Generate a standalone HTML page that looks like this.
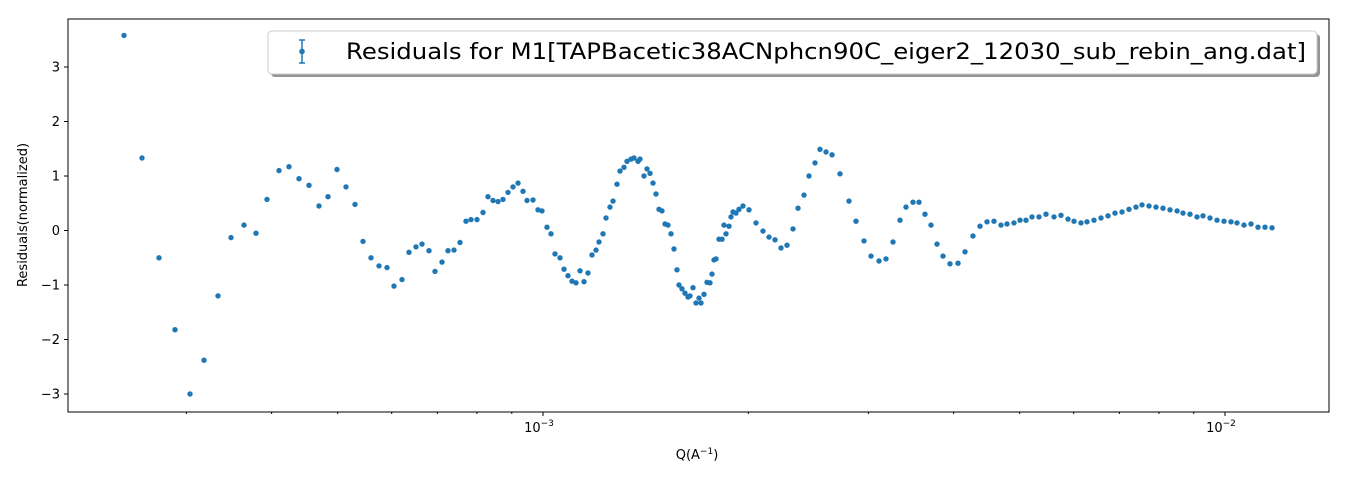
<!DOCTYPE html>
<html><head><meta charset="utf-8"><style>
body{margin:0;background:#fff;}
svg{display:block;font-family:"DejaVu Sans","Liberation Sans",sans-serif;}
</style></head><body>
<svg id="chart" width="1347" height="480" xmlns="http://www.w3.org/2000/svg">
<rect x="0" y="0" width="1347" height="480" fill="#fff"/>
<g id="marks"></g>
<g id="axes"></g>
<rect x="68" y="19" width="1261" height="393" fill="none" stroke="#000" stroke-width="1"/>
<text x="697" y="459" font-size="13" text-anchor="middle">Q(A<tspan dy="-5" font-size="9">−1</tspan><tspan dy="5">)</tspan></text>
<text transform="translate(27,215) rotate(-90)" font-size="13" text-anchor="middle">Residuals(normalized)</text>
<g>
<rect x="271" y="34" width="1049" height="43" rx="4" fill="#888" opacity="0.9"/>
<rect x="268" y="31" width="1049" height="43" rx="4" fill="#fff" stroke="#ccc" stroke-width="1"/>
<g stroke="#1f77b4" stroke-width="1.5">
<line x1="302" y1="40" x2="302" y2="63"/><line x1="299" y1="40" x2="305" y2="40"/><line x1="299" y1="63" x2="305" y2="63"/>
<circle cx="302" cy="51.5" r="2.8" fill="#1f77b4" stroke="none"/></g>
<text x="346" y="59" font-size="22" textLength="960" lengthAdjust="spacingAndGlyphs">Residuals for M1[TAPBacetic38ACNphcn90C_eiger2_12030_sub_rebin_ang.dat]</text>
</g>
</svg>
<script>
const logQ=[-3.6144,-3.5880,-3.5631,-3.5396,-3.5176,-3.4971,-3.4765,-3.4575,-3.4384,-3.4208,-3.4047,-3.3871,-3.3724,-3.3578,-3.3431,-3.3285,-3.3153,-3.3021,-3.2889,-3.2757,-3.2639,-3.2522,-3.2405,-3.2287,-3.2185,-3.2067,-3.1965,-3.1862,-3.1774,-3.1672,-3.1584,-3.1481,-3.1393,-3.1305,-3.1217,-3.1129,-3.1056,-3.0968,-3.0880,-3.0806,-3.0733,-3.0660,-3.0587,-3.0513,-3.0440,-3.0367,-3.0293,-3.0235,-3.0147,-3.0073,-3.0015,-2.9941,-2.9883,-2.9824,-2.9751,-2.9692,-2.9633,-2.9575,-2.9516,-2.9457,-2.9399,-2.9340,-2.9282,-2.9223,-2.9179,-2.9120,-2.9076,-2.9018,-2.8974,-2.8915,-2.8871,-2.8812,-2.8768,-2.8710,-2.8666,-2.8607,-2.8578,-2.8519,-2.8475,-2.8431,-2.8387,-2.8343,-2.8299,-2.8255,-2.8211,-2.8167,-2.8123,-2.8079,-2.8035,-2.8006,-2.7962,-2.7918,-2.7874,-2.7845,-2.7801,-2.7757,-2.7713,-2.7683,-2.7639,-2.7595,-2.7551,-2.7522,-2.7493,-2.7463,-2.7419,-2.7375,-2.7346,-2.7317,-2.7273,-2.7243,-2.7214,-2.7170,-2.7126,-2.7067,-2.6979,-2.6877,-2.6774,-2.6686,-2.6598,-2.6510,-2.6422,-2.6334,-2.6261,-2.6173,-2.6100,-2.6012,-2.5938,-2.5850,-2.5762,-2.5645,-2.5513,-2.5410,-2.5293,-2.5191,-2.5073,-2.4971,-2.4868,-2.4765,-2.4677,-2.4575,-2.4487,-2.4399,-2.4311,-2.4223,-2.4135,-2.4032,-2.3915,-2.3812,-2.3695,-2.3592,-2.3490,-2.3387,-2.3284,-2.3196,-2.3094,-2.3006,-2.2918,-2.2830,-2.2727,-2.2625,-2.2507,-2.2405,-2.2302,-2.2214,-2.2111,-2.2023,-2.1921,-2.1818,-2.1715,-2.1613,-2.1510,-2.1407,-2.1305,-2.1217,-2.1114,-2.1011,-2.0909,-2.0806,-2.0703,-2.0616,-2.0513,-2.0410,-2.0322,-2.0220,-2.0117,-2.0015,-1.9912,-1.9824,-1.9721,-1.9619,-1.9516,-1.9413,-1.9311];
const residuals=[3.58,1.33,-0.5,-1.82,-3.0,-2.38,-1.2,-0.13,0.1,-0.05,0.57,1.1,1.17,0.95,0.83,0.45,0.62,1.12,0.8,0.48,-0.2,-0.5,-0.65,-0.68,-1.02,-0.9,-0.4,-0.3,-0.25,-0.37,-0.75,-0.58,-0.37,-0.36,-0.22,0.17,0.2,0.2,0.33,0.62,0.55,0.53,0.57,0.7,0.8,0.87,0.72,0.55,0.56,0.38,0.36,0.06,-0.06,-0.43,-0.50,-0.71,-0.83,-0.93,-0.96,-0.74,-0.94,-0.78,-0.45,-0.36,-0.21,-0.06,0.23,0.43,0.54,0.85,1.09,1.16,1.27,1.31,1.33,1.27,1.31,1.0,1.13,1.05,0.87,0.67,0.39,0.36,0.12,0.10,-0.06,-0.34,-0.72,-1.0,-1.07,-1.15,-1.22,-1.2,-1.05,-1.33,-1.24,-1.33,-1.17,-0.95,-0.96,-0.80,-0.54,-0.52,-0.16,-0.16,0.10,-0.06,0.08,0.25,0.34,0.32,0.39,0.45,0.38,0.14,-0.01,-0.12,-0.17,-0.32,-0.27,0.03,0.41,0.65,1.0,1.24,1.49,1.44,1.39,1.04,0.54,0.17,-0.19,-0.47,-0.56,-0.52,-0.21,0.19,0.43,0.52,0.52,0.30,0.10,-0.25,-0.47,-0.61,-0.60,-0.39,-0.10,0.08,0.16,0.17,0.10,0.12,0.14,0.19,0.19,0.25,0.25,0.30,0.25,0.28,0.21,0.17,0.14,0.16,0.19,0.23,0.27,0.32,0.34,0.39,0.43,0.47,0.45,0.43,0.41,0.38,0.36,0.32,0.30,0.25,0.27,0.23,0.19,0.17,0.16,0.14,0.10,0.12,0.06,0.06,0.05];
const yTicks=[-3,-2,-1,0,1,2,3];
const yTickLabels=["−3","−2","−1","0","1","2","3"];
const xMajor=[-3,-2];
const xMajorLabels=["10","10"];
const xMajorExp=["−3","−2"];
const X0=68,X1=1329,Y0=19,Y1=412;
const LMIN=-3.6965,LMAX=-1.8475,VMIN=-3.330,VMAX=3.881;
function xs(l){return X0+(l-LMIN)/(LMAX-LMIN)*(X1-X0);}
function ys(v){return Y1-(v-VMIN)/(VMAX-VMIN)*(Y1-Y0);}
const NS="http://www.w3.org/2000/svg";
const marks=document.getElementById('marks'),axes=document.getElementById('axes');
function mk(t,a,p){const e=document.createElementNS(NS,t);for(const k in a)e.setAttribute(k,a[k]);p.appendChild(e);return e;}
for(let i=0;i<logQ.length;i++){
 const c=mk('circle',{cx:xs(logQ[i]).toFixed(1),cy:ys(residuals[i]).toFixed(1),r:2.7,fill:'#1f77b4'},marks);
 
 
}
yTicks.forEach((v,i)=>{const y=ys(v);
 const t=mk('line',{x1:X0-4,x2:X0,y1:y,y2:y,stroke:'#000'},axes);
 
 
 const l=mk('text',{x:X0-8,y:y+4.5,'font-size':13,'text-anchor':'end'},axes);l.textContent=yTickLabels[i];
 
 
});
xMajor.forEach((m,i)=>{const x=xs(m);
 const t=mk('line',{x1:x,x2:x,y1:Y1,y2:Y1+4,stroke:'#000'},axes);
 
 
 const l=mk('text',{x:x-4,y:Y1+20,'font-size':13,'text-anchor':'middle'},axes);
 l.innerHTML=xMajorLabels[i]+'<tspan dy="-6" font-size="9">'+xMajorExp[i]+'</tspan>';
 
 
});
for(let d=-4;d<=-2;d++)for(let k=2;k<=9;k++){const l=d+Math.log10(k);if(l<LMIN||l>LMAX)continue;const x=xs(l);
 const t=mk('line',{x1:x,x2:x,y1:Y1,y2:Y1+2,stroke:'#000'},axes);
 
 
}
</script>
</body></html>
